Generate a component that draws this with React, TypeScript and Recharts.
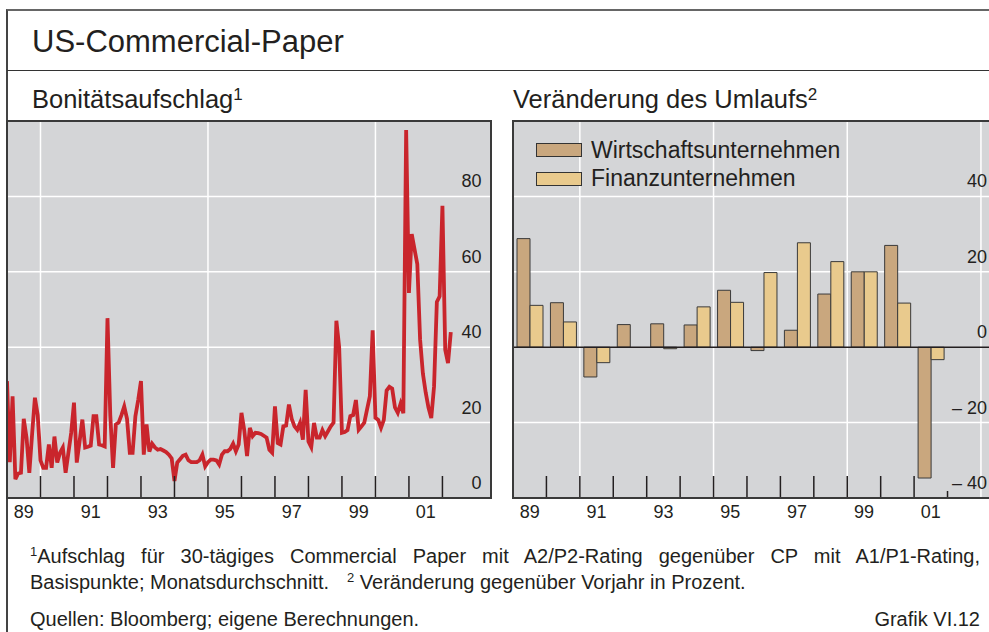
import React from 'react';
import {
  LineChart,
  Line,
  BarChart,
  Bar,
  XAxis,
  YAxis,
  CartesianGrid,
  ReferenceLine,
  Legend
} from 'recharts';

// Bonitätsaufschlag, Basispunkte, Monatswerte ab Jan. 1989
const spreadStart = 1989;
const spreadBp = [
  31, 9.5, 27, 5, 6.5, 6.7, 21, 16, 6.7, 17, 26.6, 22,
  10, 8, 8, 14.2, 8, 16.3, 9.4, 12, 13.4, 6.7, 12, 17.3,
  25.3, 9.4, 15, 20.8, 13.4, 13.6, 13.9, 21.7, 21.7, 14.2, 14, 13.7,
  47.7, 22, 8, 19.5, 20, 22, 24.3, 21, 12, 12, 21.7, 26,
  31, 11.5, 19.5, 12.3, 14.4, 13.4, 12.8, 13, 12.6, 12.2, 11.5, 10.5,
  4.5, 9.4, 10.3, 11.2, 11.5, 10, 9.5, 9.5, 9.5, 10, 11.5, 8.4,
  9.5, 10.2, 10.2, 10, 8.9, 11.5, 12.4, 12.4, 13, 14.4, 12.4, 14.2,
  22.6, 18, 11.1, 18.6, 16.4, 17.3, 17.2, 17, 16.5, 16, 12.8, 12,
  24.3, 14.6, 14.2, 19, 19.2, 24.8, 21, 19, 18.1, 19.9, 15.5, 28.7,
  15, 13.5, 19.9, 16, 16, 18, 16.4, 17.7, 19, 20, 47, 40,
  17.3, 17.5, 18, 21.7, 22, 26, 18.1, 19, 20, 23.5, 27, 44.5,
  21.3, 20.7, 18.6, 20.7, 28.5, 29.5, 29, 24, 22.6, 25, 22.5, 97.6,
  54.4, 70, 66, 62, 42, 33, 28, 24, 21.2, 29.6, 52, 53.5,
  77.5, 39.3, 35.8, 44
];

// Veränderung des Umlaufs, % gg. Vorjahr
const barYears = [1989, 1990, 1991, 1992, 1993, 1994, 1995, 1996, 1997, 1998, 1999, 2000, 2001];
const wirtschaft = [28.8, 11.8, -7.9, 6.0, 6.2, 5.9, 15.1, -0.9, 4.5, 14.1, 20.0, 27.0, -34.7];
const finanz = [11.1, 6.7, -4.1, 0, -0.4, 10.7, 11.9, 19.8, 27.7, 22.7, 20.0, 11.7, -3.3];
const seriesNames = ['Wirtschaftsunternehmen', 'Finanzunternehmen'];

const labelYears = [1989, 1991, 1993, 1995, 1997, 1999, 2001];
const markYears = [1990, 1991, 1992, 1993, 1994, 1995, 1996, 1997, 1998, 1999, 2000, 2001, 2002];
const spreadTicks = [0, 20, 40, 60, 80];
const changeTicks = [-40, -20, 0, 20, 40];

const spreadData = spreadBp.map((v, i) => ({ t: spreadStart + i / 12, v }));
const changeData = barYears.map((y, i) => ({ yr: y + 0.5, w: wirtschaft[i], f: finanz[i] }));
const xTicks = [...labelYears.map((y) => y + 0.5), ...markYears];

const FONT = "'Liberation Sans', Arial, Helvetica, sans-serif";
const INK = '#231f20';
const PLOT_BG = '#d4d5d7';
const RED = '#c9252c';
const W_COLOR = '#c9a77e';
const F_COLOR = '#e9ca8d';

const PLOT_H = 377;
const CHART_H = 410;
const LEFT_W = 484;
const RIGHT_W = 488;

const makeYearTick = (shortLast: boolean) => (props: any) => {
  const { x, payload } = props;
  const v = payload.value;
  if (Number.isInteger(v)) {
    const len = shortLast && v === 2002 ? 7 : 22;
    return <line x1={x} x2={x} y1={PLOT_H} y2={PLOT_H - len} stroke={INK} strokeWidth={1.5} />;
  }
  const yr = Math.floor(v);
  return (
    <text x={x} y={PLOT_H + 20} textAnchor="middle" fill={INK} fontSize={18} fontFamily={FONT}>
      {String(yr % 100).padStart(2, '0')}
    </text>
  );
};

const makeValueTick = (labelRight: number) => (props: any) => {
  const { y, payload } = props;
  const v = payload.value;
  const label = v < 0 ? `\u2013 ${Math.abs(v)}` : String(v);
  return (
    <text x={labelRight} y={y - 9} textAnchor="end" fill={INK} fontSize={18} fontFamily={FONT}>
      {label}
    </text>
  );
};

const LegendBox = ({ payload }: any) => {
  const items = (payload || [])
    .slice()
    .sort((a: any, b: any) => seriesNames.indexOf(a.value) - seriesNames.indexOf(b.value));
  return (
    <div style={{ fontFamily: FONT, fontSize: 23, color: INK }}>
      {items.map((entry: any) => (
        <div key={entry.value} style={{ display: 'flex', alignItems: 'center', height: 28.5 }}>
          <span
            style={{
              display: 'inline-block',
              width: 46,
              height: 14,
              background: entry.color,
              border: '1.2px solid #333',
              boxSizing: 'border-box',
              marginRight: 9
            }}
          />
          <span style={{ whiteSpace: 'nowrap' }}>{entry.value}</span>
        </div>
      ))}
    </div>
  );
};

const Sup = ({ children, size = 14, top = -8 }: any) => (
  <span style={{ fontSize: size, position: 'relative', top }}>{children}</span>
);

export default function App() {
  return (
    <div
      style={{
        position: 'absolute',
        left: 0,
        top: 0,
        width: 989,
        height: 632,
        overflow: 'hidden',
        background: '#fff',
        fontFamily: FONT,
        color: INK
      }}
    >
      {/* frame */}
      <div style={{ position: 'absolute', left: 6, top: 9, width: 1000, height: 700, borderTop: '2px solid #666', borderLeft: '2px solid #444' }} />
      <div style={{ position: 'absolute', left: 7, top: 70, width: 990, borderTop: '1.5px solid #333' }} />

      <div style={{ position: 'absolute', left: 32, top: 26, fontSize: 31, lineHeight: 1, whiteSpace: 'nowrap' }}>
        US-Commercial-Paper
      </div>
      <div style={{ position: 'absolute', left: 32, top: 87, fontSize: 25.5, lineHeight: 1, whiteSpace: 'nowrap' }}>
        Bonitätsaufschlag<Sup size={17} top={-8}>1</Sup>
      </div>
      <div style={{ position: 'absolute', left: 513, top: 87, fontSize: 25.5, lineHeight: 1, whiteSpace: 'nowrap' }}>
        Veränderung des Umlaufs<Sup size={17} top={-8}>2</Sup>
      </div>

      {/* left panel */}
      <div style={{ position: 'absolute', left: 7, top: 121 }}>
        <LineChart width={LEFT_W} height={CHART_H} data={spreadData} margin={{ top: 0, right: 0, bottom: 0, left: 0 }}>
          <CartesianGrid
            fill={PLOT_BG}
            fillOpacity={1}
            stroke="#ffffff"
            strokeWidth={1.5}
            horizontalValues={[20, 40, 60, 80]}
            verticalValues={[1990, 1995, 2000]}
          />
          <XAxis
            dataKey="t"
            type="number"
            domain={[1989, 2003.45]}
            allowDataOverflow
            ticks={xTicks}
            interval={0}
            height={CHART_H - PLOT_H}
            axisLine={false}
            tickLine={false}
            tick={makeYearTick(false)}
          />
          <YAxis
            type="number"
            domain={[0, 100]}
            allowDataOverflow
            ticks={spreadTicks}
            orientation="right"
            mirror
            axisLine={false}
            tickLine={false}
            tick={makeValueTick(LEFT_W - 9.5)}
          />
          <Line
            type="linear"
            dataKey="v"
            stroke={RED}
            strokeWidth={3.8}
            dot={false}
            activeDot={false}
            isAnimationActive={false}
          />
        </LineChart>
      </div>
      <div style={{ position: 'absolute', left: 6, top: 120, width: 486, height: 379, border: '2px solid #3a3a3a', boxSizing: 'border-box' }} />

      {/* right panel */}
      <div style={{ position: 'absolute', left: 513, top: 121 }}>
        <BarChart width={RIGHT_W} height={CHART_H} data={changeData} barGap={0} margin={{ top: 0, right: 0, bottom: 0, left: 0 }}>
          <CartesianGrid
            fill={PLOT_BG}
            fillOpacity={1}
            stroke="#ffffff"
            strokeWidth={1.5}
            horizontalValues={[-20, 20, 40]}
            verticalValues={[1991, 1995, 1999, 2003]}
          />
          <XAxis
            dataKey="yr"
            type="number"
            domain={[1989, 2003.6]}
            allowDataOverflow
            ticks={xTicks}
            interval={0}
            height={CHART_H - PLOT_H}
            axisLine={false}
            tickLine={false}
            tick={makeYearTick(true)}
          />
          <XAxis xAxisId="b" dataKey="yr" type="number" domain={[1989, 2003.6]} allowDataOverflow hide />
          <YAxis
            type="number"
            domain={[-40, 60]}
            allowDataOverflow
            ticks={changeTicks}
            orientation="right"
            mirror
            axisLine={false}
            tickLine={false}
            tick={makeValueTick(474)}
          />
          <Legend
            layout="vertical"
            align="center"
            verticalAlign="middle"
            wrapperStyle={{ left: 23, top: 15, width: 'auto' }}
            content={<LegendBox />}
          />
          <Bar xAxisId="b" name={seriesNames[0]} dataKey="w" fill={W_COLOR} stroke="#3a3a3a" strokeWidth={1} barSize={13} isAnimationActive={false} />
          <Bar xAxisId="b" name={seriesNames[1]} dataKey="f" fill={F_COLOR} stroke="#3a3a3a" strokeWidth={1} barSize={13} isAnimationActive={false} />
          <ReferenceLine y={0} stroke={INK} strokeWidth={1.5} />
        </BarChart>
      </div>
      <div style={{ position: 'absolute', left: 512, top: 120, width: 492, height: 379, border: '2px solid #3a3a3a', boxSizing: 'border-box' }} />

      {/* footnotes */}
      <div style={{ position: 'absolute', left: 30, top: 546, width: 950, fontSize: 20, lineHeight: 1, textAlign: 'justify', textAlignLast: 'justify', whiteSpace: 'nowrap' } as any}>
        <Sup size={13} top={-7}>1</Sup>Aufschlag für 30-tägiges Commercial Paper mit A2/P2-Rating gegenüber CP mit A1/P1-Rating,
      </div>
      <div style={{ position: 'absolute', left: 30, top: 572, fontSize: 20, lineHeight: 1, whiteSpace: 'nowrap' }}>
        Basispunkte; Monatsdurchschnitt.<span style={{ marginLeft: 18 }} />
        <Sup size={13} top={-7}>2</Sup> Veränderung gegenüber Vorjahr in Prozent.
      </div>
      <div style={{ position: 'absolute', left: 30, top: 609, fontSize: 20, lineHeight: 1, whiteSpace: 'nowrap' }}>
        Quellen: Bloomberg; eigene Berechnungen.
      </div>
      <div style={{ position: 'absolute', right: 9, top: 609, fontSize: 20, lineHeight: 1, whiteSpace: 'nowrap' }}>
        Grafik VI.12
      </div>
    </div>
  );
}
